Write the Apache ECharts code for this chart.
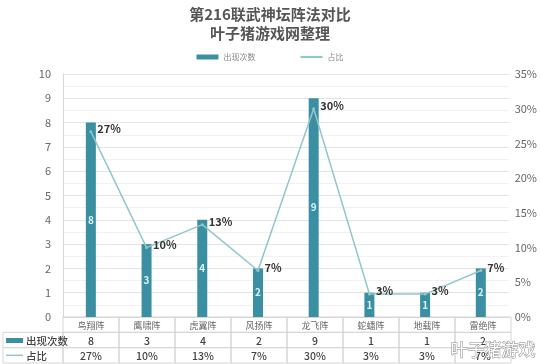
<!DOCTYPE html>
<html>
<head>
<meta charset="utf-8">
<script src="https://cdn.jsdelivr.net/npm/echarts@6/dist/echarts.min.js"></script>
<style>
html,body{margin:0;padding:0;background:#fff;}
#main{width:540px;height:364px;}
</style>
</head>
<body>
<div id="main"></div>
<script>
// 阵法名称 / 出现次数 / 占比(%)
var categories = ['鸟翔阵', '鹰啸阵', '虎翼阵', '风扬阵', '龙飞阵', '蛇蟠阵', '地载阵', '雷绝阵'];
var counts = [8, 3, 4, 2, 9, 1, 1, 2];
var ratios = [26.7, 10, 13.3, 6.7, 30, 3.3, 3.3, 6.7];
var countTicks = [0, 10, 1];
var ratioTicks = [0, 35, 5];
var rowNames = ['', '出现次数', '占比'];

var barColor = '#3a90a2';
var lineColor = '#92c5cc';

var myChart = echarts.init(document.getElementById('main'));

var tableData = [];
for (var i = 0; i < categories.length; i++) {
    for (var r = 0; r < 3; r++) {
        tableData.push([i, r]);
    }
}

function cellText(ci, row) {
    if (row === 0) return categories[ci];
    if (row === 1) return String(counts[ci]);
    return Math.round(ratios[ci]) + '%';
}

function renderCell(params, api) {
    var ci = api.value(0), row = api.value(1);
    var c = api.coord([ci, row]);
    var s = api.size([1, 1]);
    var x = c[0] - s[0] / 2, y = c[1] - s[1] / 2;
    var kids = [{
        type: 'rect',
        shape: {x: x, y: y, width: s[0], height: s[1]},
        style: {fill: 'none', stroke: '#d6d6d6', lineWidth: 1}
    }, {
        type: 'text',
        style: {
            x: c[0], y: c[1] + 1, text: cellText(ci, row),
            align: 'center', verticalAlign: 'middle',
            fill: row === 0 ? '#666' : '#444',
            font: (row === 0 ? '9px' : '500 10.5px') + ' "Noto Sans CJK SC", sans-serif'
        }
    }];
    // 表头列
    if (ci === 0 && row > 0) {
        var hx = x - 60;
        kids.push({
            type: 'rect',
            shape: {x: hx, y: y, width: 60, height: s[1]},
            style: {fill: 'none', stroke: '#d6d6d6', lineWidth: 1}
        });
        if (row === 1) {
            kids.push({type: 'rect', shape: {x: hx + 3, y: c[1] - 2, width: 17, height: 5}, style: {fill: barColor}});
        } else {
            kids.push({type: 'line', shape: {x1: hx + 3, y1: c[1], x2: hx + 20, y2: c[1]}, style: {stroke: lineColor, lineWidth: 1.5}});
        }
        kids.push({
            type: 'text',
            style: {
                x: hx + 23, y: c[1] + 1, text: rowNames[row],
                align: 'left', verticalAlign: 'middle', fill: '#444',
                font: '500 10.5px "Noto Sans CJK SC", sans-serif'
            }
        });
    }
    return {type: 'group', children: kids};
}

var option = {
    backgroundColor: '#fff',
    textStyle: {fontFamily: '"Noto Sans CJK SC", "Noto Sans", sans-serif'},
    title: {
        text: '第216联武神坛阵法对比\n叶子猪游戏网整理',
        left: 'center',
        top: 0,
        textStyle: {color: '#555', fontSize: 15, fontWeight: 'bold', lineHeight: 19}
    },
    legend: {
        top: 48,
        left: 'center',
        itemGap: 45,
        itemWidth: 22,
        itemHeight: 5,
        textStyle: {color: '#888', fontSize: 8},
        data: [
            {name: '出现次数', icon: 'rect'},
            {name: '占比', icon: 'path://M0,0 L10,0 L10,1 L0,1 Z'}
        ]
    },
    grid: [
        {left: 63, right: 29, top: 74, bottom: 47},
        {left: 63, right: 29, top: 317, bottom: 1}
    ],
    xAxis: [{
        type: 'category',
        gridIndex: 0,
        data: categories,
        axisLine: {show: true, lineStyle: {color: '#d6d6d6'}},
        axisTick: {show: false},
        axisLabel: {show: false}
    }, {
        type: 'category',
        gridIndex: 1,
        data: categories,
        show: false
    }],
    yAxis: [{
        type: 'value',
        gridIndex: 0,
        min: countTicks[0],
        max: countTicks[1],
        interval: countTicks[2],
        axisLine: {show: true, lineStyle: {color: '#d6d6d6'}},
        axisTick: {show: false},
        axisLabel: {color: '#666', fontSize: 11, margin: 12},
        splitLine: {lineStyle: {color: '#e4e4e4'}},
        minorTick: {show: false, splitNumber: 2},
        minorSplitLine: {show: true, lineStyle: {color: '#f1f1f1'}}
    }, {
        type: 'value',
        gridIndex: 0,
        position: 'right',
        min: ratioTicks[0],
        max: ratioTicks[1],
        interval: ratioTicks[2],
        axisLine: {show: false},
        axisTick: {show: false},
        axisLabel: {color: '#666', fontSize: 11, margin: 6, formatter: '{value}%'},
        splitLine: {show: false}
    }, {
        type: 'category',
        gridIndex: 1,
        inverse: true,
        data: ['a', 'b', 'c'],
        show: false
    }],
    series: [{
        name: '出现次数',
        type: 'bar',
        xAxisIndex: 0,
        yAxisIndex: 0,
        barWidth: 10,
        data: counts,
        itemStyle: {color: barColor},
        label: {
            show: true,
            position: 'inside',
            color: '#d8f4f8',
            fontSize: 10,
            fontWeight: 'bold'
        }
    }, {
        name: '占比',
        type: 'line',
        xAxisIndex: 0,
        yAxisIndex: 1,
        data: ratios,
        symbol: 'circle',
        symbolSize: 3,
        lineStyle: {color: lineColor, width: 1.5},
        itemStyle: {color: lineColor},
        label: {
            show: true,
            position: 'right',
            offset: [0, -3],
            color: '#333',
            fontSize: 11,
            fontWeight: 'bold',
            formatter: function (p) { return Math.round(p.value) + '%'; }
        },
        z: 5
    }, {
        name: 'table',
        type: 'custom',
        xAxisIndex: 1,
        yAxisIndex: 2,
        data: tableData,
        renderItem: renderCell,
        silent: true
    }],
    graphic: [{
        type: 'text',
        right: 4,
        bottom: 5,
        style: {
            text: '叶子猪游戏',
            fill: '#fff',
            stroke: '#8a8a8a',
            lineWidth: 1,
            font: '17px "Noto Sans CJK SC", sans-serif'
        },
        z: 100
    }]
};
myChart.setOption(option);
</script>
</body>
</html>
